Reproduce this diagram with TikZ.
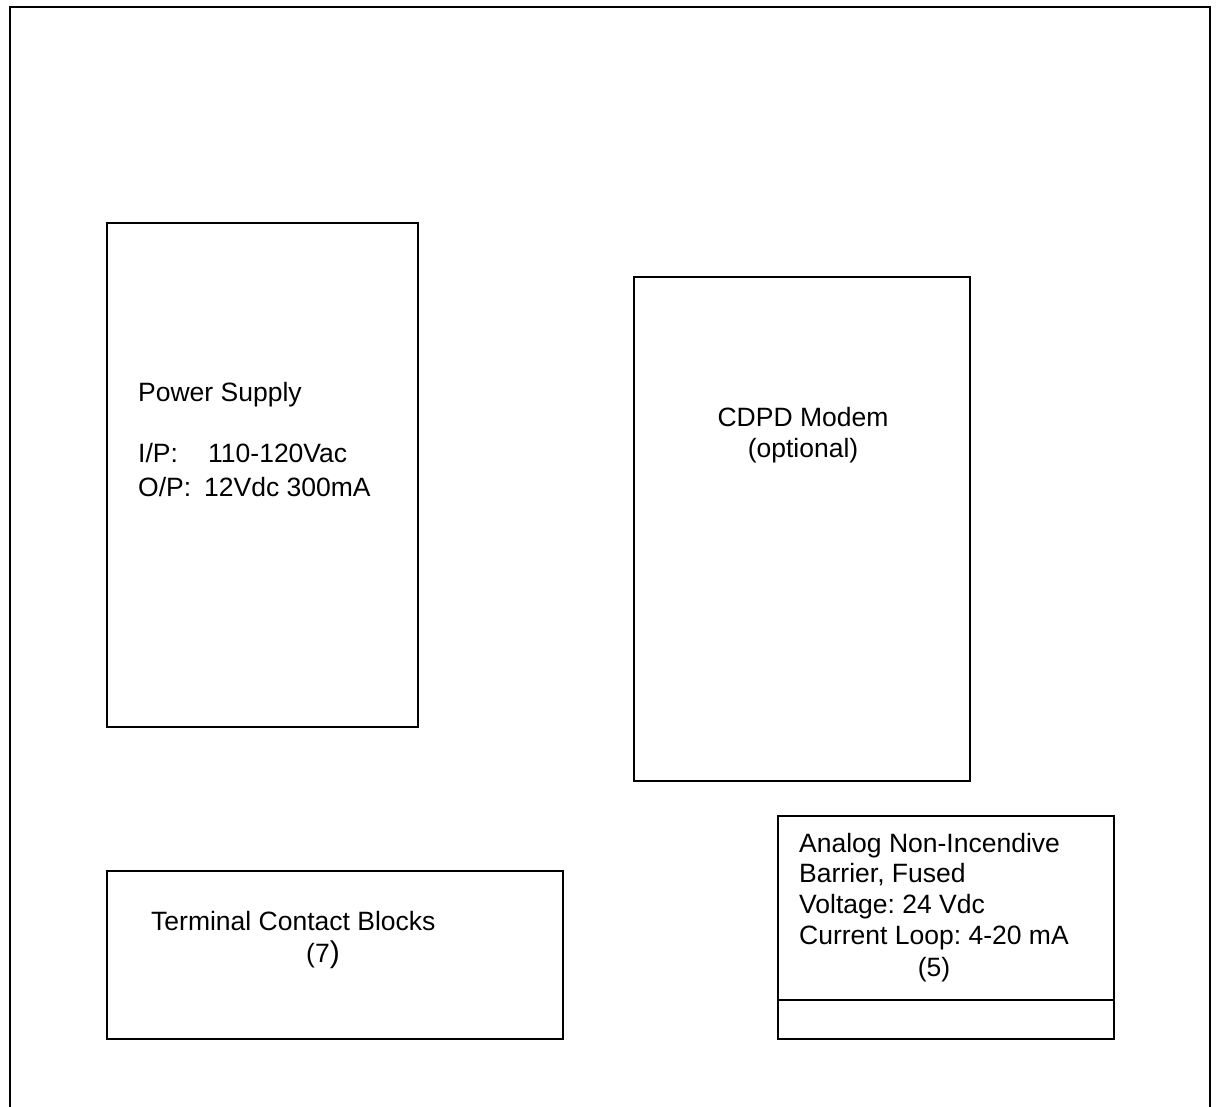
\documentclass[tikz,border=0pt]{standalone}
\usepackage{fontspec}
\setmainfont{Liberation Sans}
\frenchspacing
\begin{document}
\begin{tikzpicture}[x=1pt,y=-1pt,
  box/.style={draw=black,line width=1.4pt},
  lbl/.style={font=\fontsize{26.5}{30}\selectfont,inner sep=0pt,anchor=base west},
  clbl/.style={font=\fontsize{26.5}{30}\selectfont,inner sep=0pt,anchor=base}]
\useasboundingbox (0,0) rectangle (1216,1107);
% outer frame (open at the bottom)
\draw[line width=1.6pt] (10,1107) -- (10,7) -- (1210,7) -- (1210,1107);
% boxes
\draw[box] (107,223) rectangle (418,727);
\draw[box] (634,277) rectangle (970,781);
\draw[box] (107,871) rectangle (563,1039);
\draw[box] (778,816) rectangle (1114,1039);
\draw[box] (778,1000) -- (1114,1000);
% power supply text
\node[lbl] (ps) at (138,402) {Power Supply};
\node[lbl] (ip) at (138,462) {I/P:};
\node[lbl] (ipv) at (208,462) {110-120Vac};
\node[lbl] (op) at (138,496) {O/P:};
\node[lbl] (opv) at (204,496) {12Vdc 300mA};
% CDPD
\node[clbl] (cdpd) at (803,426) {CDPD Modem};
\node[clbl] (opt) at (803,457) {(optional)};
% terminal
\node[lbl] (term) at (151,930) {Terminal Contact Blocks};
\node[clbl] (seven) at (323,962) {(7{\fontsize{30}{30}\selectfont)}};
% analog
\node[lbl] (a1) at (799,852) {Analog Non-Incendive};
\node[lbl] (a2) at (799,882) {Barrier, Fused};
\node[lbl] (a3) at (799,913) {Voltage: 24 Vdc};
\node[lbl] (a4) at (799,944) {Current Loop: 4-20 mA};
\node[clbl] (five) at (934,976) {(5)};
\end{tikzpicture}
\end{document}
